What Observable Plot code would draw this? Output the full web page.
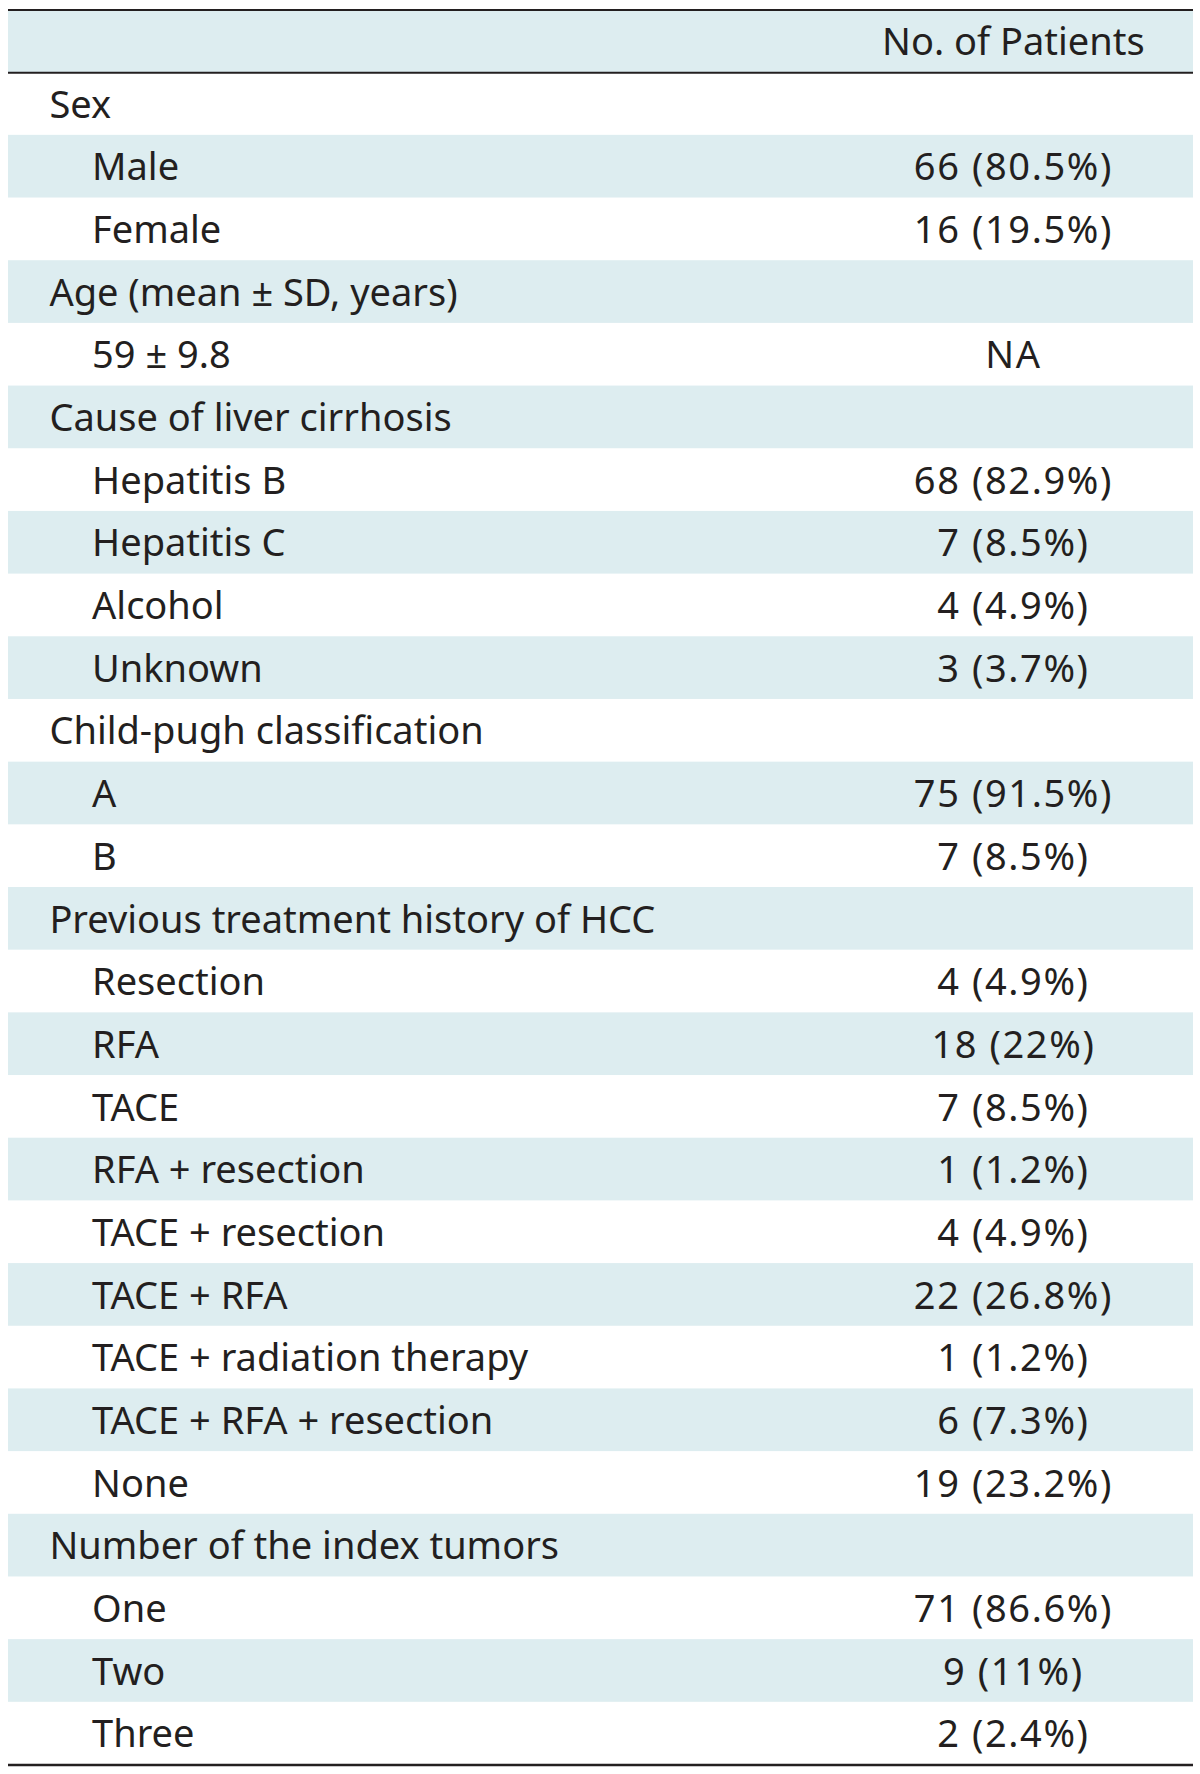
<!DOCTYPE html>
<html>
<head>
<meta charset="utf-8">
<script src="https://cdn.jsdelivr.net/npm/d3@7"></script>
<script src="https://cdn.jsdelivr.net/npm/@observablehq/plot@0.6"></script>
<style>
  html, body { margin: 0; padding: 0; background: #fff; }
  #chart svg { display: block; }
  #chart svg g.values text { letter-spacing: 1.6px; }
</style>
</head>
<body>
<div id="chart"></div>
<script>
const headerLabel = "No. of Patients";

const rowLabels = [
  "Sex", "Male", "Female",
  "Age (mean ± SD, years)", "59 ± 9.8",
  "Cause of liver cirrhosis", "Hepatitis B", "Hepatitis C", "Alcohol", "Unknown",
  "Child-pugh classification", "A", "B",
  "Previous treatment history of HCC", "Resection", "RFA", "TACE", "RFA + resection",
  "TACE + resection", "TACE + RFA", "TACE + radiation therapy", "TACE + RFA + resection", "None",
  "Number of the index tumors", "One", "Two", "Three"
];

const rowValues = [
  "", "66 (80.5%)", "16 (19.5%)",
  "", "NA",
  "", "68 (82.9%)", "7 (8.5%)", "4 (4.9%)", "3 (3.7%)",
  "", "75 (91.5%)", "7 (8.5%)",
  "", "4 (4.9%)", "18 (22%)", "7 (8.5%)", "1 (1.2%)",
  "4 (4.9%)", "22 (26.8%)", "1 (1.2%)", "6 (7.3%)", "19 (23.2%)",
  "", "71 (86.6%)", "9 (11%)", "2 (2.4%)"
];

// 0 = group heading, 1 = indented item
const rowLevels = [
  0, 1, 1,
  0, 1,
  0, 1, 1, 1, 1,
  0, 1, 1,
  0, 1, 1, 1, 1, 1, 1, 1, 1, 1,
  0, 1, 1, 1
];

const nRows = rowLabels.length + 1; // incl. header
const rows = rowLabels.map((label, i) => ({
  idx: i + 1,
  label,
  value: rowValues[i],
  level: rowLevels[i]
}));
const shaded = d3.range(nRows).filter(i => i % 2 === 0);

const ink = "#231f20";
const fs = 38;
const labelX = [0.0345, 0.0705];
const valueX = 0.848;

const chart = Plot.plot({
  width: 1200,
  height: 1774,
  margin: 0,
  style: { fontFamily: "'Noto Sans', sans-serif", background: "#fff" },
  x: { domain: [0, 1], range: [8, 1193], axis: null },
  y: { domain: [0, nRows], range: [9.5, 1764.5], axis: null },
  marks: [
    Plot.rect(shaded, { x1: 0, x2: 1, y1: d => d, y2: d => d + 1, fill: "#ddedf0" }),
    Plot.ruleY([0], { x1: 0, x2: 1, stroke: ink, strokeWidth: 2.2 }),
    Plot.ruleY([1], { x1: 0, x2: 1, stroke: ink, strokeWidth: 2 }),
    Plot.ruleY([nRows], { x1: 0, x2: 1, stroke: ink, strokeWidth: 2.5 }),
    Plot.text([headerLabel], { x: valueX, y: 0.5, text: d => d, textAnchor: "middle", fontSize: fs, fill: ink, dy: 1.5 }),
    Plot.text(rows, { x: d => labelX[d.level], y: d => d.idx + 0.5, text: "label", textAnchor: "start", fontSize: fs, fill: ink, dy: 1.5 }),
    Plot.text(rows.filter(d => d.value), { x: valueX, y: d => d.idx + 0.5, text: "value", textAnchor: "middle", fontSize: fs, fill: ink, dy: 1.5, className: "values" })
  ]
});
document.getElementById("chart").appendChild(chart);
</script>
</body>
</html>
